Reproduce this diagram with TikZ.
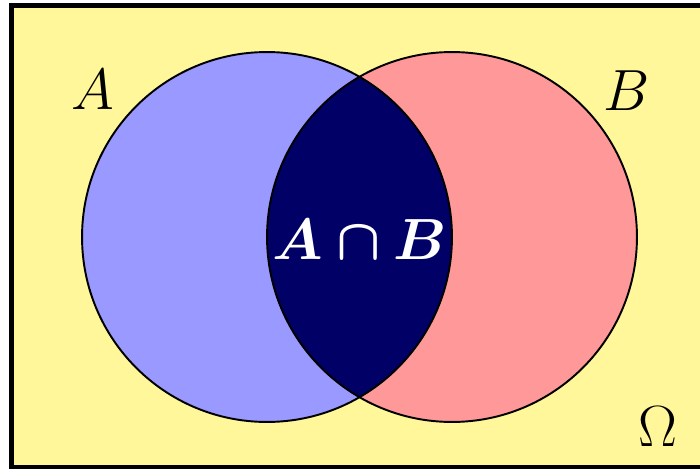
\documentclass[tikz,border=0pt]{standalone}
\usepackage{amsmath}
\usepackage{amssymb}
\usepackage{bm}
\usepackage{xcolor}
\usepackage{tikz}
\definecolor{omegayellow}{RGB}{255, 247, 153}
\definecolor{setblue}{RGB}{153, 153, 255}
\definecolor{setred}{RGB}{255, 153, 153}
\definecolor{setnavy}{RGB}{0, 0, 102}
\tikzstyle{setlabel} = [font=\Huge, scale=1.33, inner sep=0pt]
\tikzstyle{setedge} = [line width=1.1pt, draw=black]

\begin{document}
\begin{tikzpicture}[x=0.02cm, y=-0.02cm]
    \useasboundingbox (0,0) rectangle (700,470);

    % Universe
    \begin{scope}
        \clip (0,0) rectangle (700,470);
        \draw[line width=2.8pt, fill=omegayellow] (11.5,5.5) rectangle (720,467);
    \end{scope}

    % Two sets
    \fill[setblue] (267,237) circle[radius=3.7cm];
    \fill[setred] (452,237) circle[radius=3.7cm];
    \begin{scope}
        \clip (267,237) circle[radius=3.7cm];
        \fill[setnavy] (452,237) circle[radius=3.7cm];
    \end{scope}
    \draw[setedge] (267,237) circle[radius=3.7cm];
    \draw[setedge] (452,237) circle[radius=3.7cm];

    % Labels
    \node[setlabel] (labA) at (93,90) {$A$};
    \node[setlabel] (labB) at (627,91) {$B$};
    \node[setlabel] (labAB) at (360,240) {\color{white}$\bm{A\cap B}$};
    \node[setlabel] (labOmega) at (658,427) {$\Omega$};
\end{tikzpicture}
\end{document}
